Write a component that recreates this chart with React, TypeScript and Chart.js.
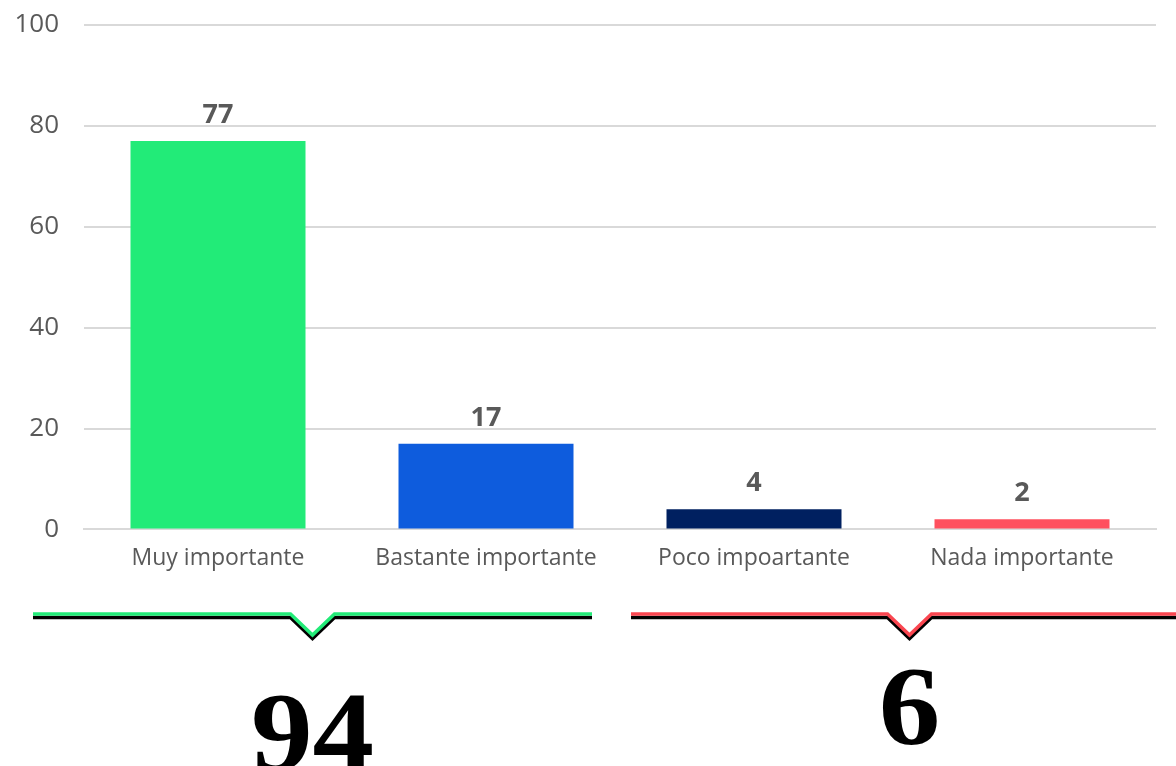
import React, { useEffect, useRef } from "react";
import { Chart, registerables } from "chart.js";

Chart.register(...registerables);

const categories = ["Muy importante", "Bastante importante", "Poco impoartante", "Nada importante"];
const values = [77, 17, 4, 2];
const barColors = ["#22EB78", "#0E5CDD", "#002060", "#FF505E"];
const yTicks = [0, 20, 40, 60, 80, 100];
const groupTotals = [values[0] + values[1], values[2] + values[3]];
const groupColors = ["#22EB78", "#FA4650"];

const TEXT = "#595959";
const FONT = '"Open Sans", "Noto Sans", sans-serif';

const valueLabels = {
  id: "valueLabels",
  afterDatasetsDraw(chart: any) {
    const ctx = chart.ctx;
    const meta = chart.getDatasetMeta(0);
    ctx.save();
    ctx.fillStyle = TEXT;
    ctx.font = `bold 27px ${FONT}`;
    ctx.textAlign = "center";
    ctx.textBaseline = "bottom";
    meta.data.forEach((bar: any, i: number) => {
      ctx.fillText(String(values[i]), bar.x, bar.y - 12);
    });
    ctx.restore();
  },
};

const brackets = {
  id: "brackets",
  afterDraw(chart: any) {
    const ctx = chart.ctx;
    const groups = [
      { x0: 33, x1: 592, tip: 312.5, baseline: 770 },
      { x0: 631, x1: 1190, tip: 909.5, baseline: 744 },
    ];
    const drawPath = (g: any, y: number) => {
      const hw = 22;
      const depth = 21;
      ctx.beginPath();
      ctx.moveTo(g.x0, y);
      ctx.lineTo(g.tip - hw, y);
      ctx.lineTo(g.tip, y + depth);
      ctx.lineTo(g.tip + hw, y);
      ctx.lineTo(g.x1, y);
      ctx.stroke();
    };
    ctx.save();
    ctx.lineJoin = "miter";
    ctx.lineCap = "butt";
    groups.forEach((g, i) => {
      ctx.lineWidth = 3.5;
      ctx.strokeStyle = "#000000";
      drawPath(g, 617.5);
      ctx.strokeStyle = groupColors[i];
      drawPath(g, 614);
      ctx.save();
      ctx.translate(g.tip, g.baseline);
      ctx.scale(1.09, 1);
      ctx.fillStyle = "#000000";
      ctx.font = 'bold 113px "Liberation Serif", "Times New Roman", serif';
      ctx.textAlign = "center";
      ctx.textBaseline = "alphabetic";
      ctx.fillText(String(groupTotals[i]), 0, 0);
      ctx.restore();
    });
    ctx.restore();
  },
};

export default function App() {
  const ref = useRef<HTMLCanvasElement>(null);
  useEffect(() => {
    document.body.style.margin = "0";
    const chart = new Chart(ref.current!, {
      type: "bar",
      data: {
        labels: categories,
        datasets: [
          {
            data: values,
            backgroundColor: barColors,
            categoryPercentage: 1,
            barPercentage: 0.653,
          },
        ],
      },
      options: {
        animation: false,
        responsive: false,
        maintainAspectRatio: false,
        layout: { padding: { top: 25, right: 20, bottom: 179, left: 0 } },
        plugins: { legend: { display: false }, tooltip: { enabled: false } },
        scales: {
          x: {
            grid: { display: false, drawTicks: false },
            border: { display: true, color: "#D9D9D9", width: 2 },
            ticks: { color: TEXT, font: { family: FONT, size: 23 }, padding: 15 },
          },
          y: {
            min: 0,
            max: 100,
            afterBuildTicks: (scale: any) => {
              scale.ticks = yTicks.map((v) => ({ value: v }));
            },
            afterFit: (scale: any) => {
              scale.width = 84;
            },
            grid: { color: "#D9D9D9", lineWidth: 2, drawTicks: true, tickLength: 25, tickColor: "rgba(0,0,0,0)" },
            border: { display: false },
            ticks: { color: TEXT, font: { family: FONT, size: 26 }, padding: 0 },
          },
        },
      },
      plugins: [valueLabels, brackets],
    });
    return () => chart.destroy();
  }, []);
  return (
    <div style={{ width: 1176, height: 766 }}>
      <canvas ref={ref} width={1176} height={766} style={{ display: "block" }} />
    </div>
  );
}
